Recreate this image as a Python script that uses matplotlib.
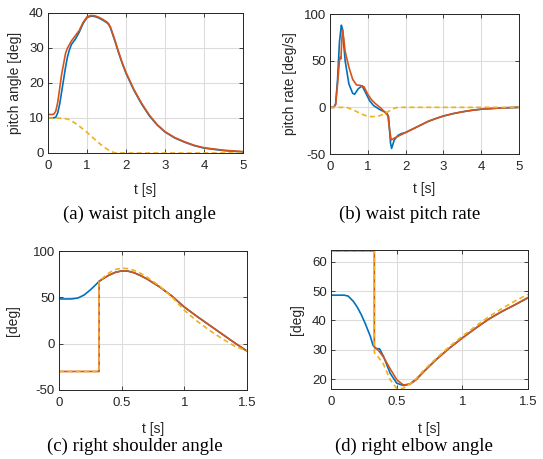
import numpy as np
import matplotlib
matplotlib.use("Agg")
import matplotlib.pyplot as plt

# matlab default colours
c_blue = "#0072BD"
c_red = "#D95319"
c_yel = "#EDB120"

# (a) waist pitch angle [deg]
ta_b = [0, 0.1, 0.2, 0.25, 0.3, 0.35, 0.4, 0.45, 0.5, 0.55, 0.6, 0.7, 0.8, 0.9, 1.0, 1.1, 1.2, 1.3, 1.4, 1.5,
        1.55, 1.6, 1.7, 1.8, 1.9, 2.0, 2.2, 2.4, 2.6, 2.8, 3.0, 3.25, 3.5, 3.75, 4.0, 4.5, 5.0]
pa_b = [10, 10, 10.2, 11.5, 14, 17.5, 21, 24.5, 27.5, 29.5, 31, 32.5, 34.5, 37, 38.7, 39.1, 39.0, 38.6, 38.0, 37.3,
        36.8, 35.8, 32.5, 29, 25.7, 22.8, 18, 14, 10.6, 8, 6, 4.3, 3.1, 2.1, 1.4, 0.7, 0.3]
ta_r = [0, 0.1, 0.15, 0.2, 0.25, 0.3, 0.35, 0.4, 0.45, 0.5, 0.55, 0.6, 0.7, 0.8, 0.9, 1.0, 1.1, 1.2, 1.3, 1.4, 1.5,
        1.55, 1.6, 1.7, 1.8, 1.9, 2.0, 2.2, 2.4, 2.6, 2.8, 3.0, 3.25, 3.5, 3.75, 4.0, 4.5, 5.0]
pa_r = [11, 11, 11.1, 12, 14.5, 18.5, 22.5, 25.5, 28.5, 30, 31, 32, 33.5, 35, 37.3, 38.9, 39.3, 39.2, 38.8, 38.2, 37.5,
        37.0, 36.0, 32.8, 29.2, 25.9, 23.0, 18.2, 14.2, 10.8, 8.1, 6.1, 4.4, 3.2, 2.2, 1.5, 0.8, 0.4]
ta_y = [0, 0.2, 0.4, 0.5, 0.6, 0.7, 0.8, 0.9, 1.0, 1.1, 1.2, 1.3, 1.4, 1.5, 1.6, 1.7, 1.8, 2.0, 3.0, 4.0, 5.0]
pa_y = [10, 10, 9.9, 9.7, 9.2, 8.5, 7.7, 6.8, 5.9, 4.9, 3.9, 2.9, 2.0, 1.2, 0.5, 0.1, 0, 0, 0, 0, 0]

# (b) waist pitch rate [deg/s]
tb_b = [0, 0.1, 0.15, 0.2, 0.25, 0.3, 0.33, 0.4, 0.5, 0.6, 0.65, 0.75, 0.85, 0.95, 1.05, 1.15, 1.3, 1.45, 1.5, 1.55,
        1.6, 1.63, 1.7, 1.8, 1.9, 2.0, 2.2, 2.4, 2.6, 2.8, 3.0, 3.25, 3.5, 3.75, 4.0, 4.5, 5.0]
rb_b = [0, 0, 4, 30, 70, 88, 84, 50, 25, 15, 14, 20, 23, 15, 7, 2, -2, -5, -6, -10,
        -38, -44, -35, -30, -28, -27, -23, -19, -15, -12, -9.3, -6.8, -4.8, -3.2, -2, -0.7, 0]
tb_r = [0, 0.1, 0.15, 0.2, 0.25, 0.27, 0.29, 0.31, 0.33, 0.36, 0.4, 0.5, 0.6, 0.7, 0.8, 0.9, 1.0, 1.1, 1.2, 1.35,
        1.47, 1.53, 1.58, 1.62, 1.7, 1.8, 1.9, 2.0, 2.2, 2.4, 2.6, 2.8, 3.0, 3.25, 3.5, 3.75, 4.0, 4.5, 5.0]
rb_r = [0, 0, 3, 25, 50, 54, 52, 70, 83, 75, 60, 43, 30, 24, 23.5, 22, 14, 8, 4, -1,
        -6, -9, -25, -35, -33, -31, -29, -27, -23, -19, -15, -12, -9.3, -6.8, -4.8, -3.2, -2, -0.7, 0]
tb_y = [0, 0.3, 0.45, 0.6, 0.75, 0.9, 1.0, 1.12, 1.25, 1.35, 1.5, 1.6, 1.7, 1.8, 2.0, 3.0, 4.0, 5.0]
rb_y = [0, 0, -0.2, -2.5, -5.5, -8.3, -9.5, -10, -9.6, -8.5, -5.5, -3.2, -1, 0, 0, 0, 0, 0]

# (c) right shoulder angle [deg]
tc_b = [0, 0.05, 0.1, 0.15, 0.2, 0.25, 0.3, 0.32, 0.35, 0.4, 0.45, 0.5, 0.55, 0.6, 0.65, 0.7, 0.8, 0.9, 1.0, 1.1,
        1.2, 1.3, 1.4, 1.5]
sc_b = [48.3, 48.2, 48.3, 49.2, 52.5, 58, 64.5, 67.3, 70, 74, 77, 78.5, 78.3, 76.5, 73.5, 70, 61.5, 51.5, 39.5, 29.5,
        20, 10.5, 1, -8]
tc_r = [0, 0.1, 0.2, 0.3, 0.32, 0.32, 0.35, 0.4, 0.45, 0.5, 0.55, 0.6, 0.65, 0.7, 0.8, 0.9, 1.0, 1.1,
        1.2, 1.3, 1.4, 1.5]
sc_r = [-30, -30, -30, -30, -30, 67.3, 70, 74, 77, 78.5, 78.3, 76.5, 73.5, 70, 61.5, 51.5, 39.5, 29.5,
        20, 10.5, 1, -8]
tc_y = [0, 0.1, 0.2, 0.3, 0.32, 0.32, 0.35, 0.4, 0.45, 0.5, 0.55, 0.6, 0.65, 0.7, 0.8, 0.9, 1.0, 1.1,
        1.2, 1.3, 1.4, 1.5]
sc_y = [-30, -30, -30, -30, -30, 67, 71, 76.5, 80, 81.5, 81, 79, 76, 72, 62.5, 50.5, 36, 24.5,
        14.5, 5.5, -2.5, -8]

# (d) right elbow angle [deg]
td_b = [0, 0.05, 0.1, 0.13, 0.17, 0.2, 0.23, 0.26, 0.3, 0.32, 0.34, 0.37, 0.4, 0.45, 0.5, 0.55, 0.6, 0.65, 0.7, 0.8,
        0.9, 1.0, 1.1, 1.2, 1.3, 1.4, 1.5]
ed_b = [48.6, 48.6, 48.6, 48.3, 46.5, 44.5, 42, 39, 34.5, 31.5, 30.4, 30.3, 27.7, 22, 18.6, 17.8, 18.3, 20, 22.3, 26.6,
        30.5, 34, 37.3, 40.4, 43, 45.3, 47.7]
td_r = [0, 0.1, 0.2, 0.3, 0.33, 0.33, 0.36, 0.4, 0.45, 0.5, 0.55, 0.6, 0.65, 0.7, 0.8,
        0.9, 1.0, 1.1, 1.2, 1.3, 1.4, 1.5]
ed_r = [63.7, 63.7, 63.7, 63.7, 63.7, 31, 29.8, 27.5, 23.5, 19.8, 18, 18.2, 19.8, 22.2, 26.6,
        30.5, 34, 37.3, 40.4, 43, 45.3, 47.8]
td_y = [0, 0.1, 0.2, 0.3, 0.33, 0.33, 0.36, 0.4, 0.45, 0.5, 0.55, 0.6, 0.65, 0.7, 0.8,
        0.9, 1.0, 1.1, 1.2, 1.3, 1.4, 1.5]
ed_y = [63.7, 63.7, 63.7, 63.7, 63.7, 29, 27.5, 25, 19.8, 16.8, 16.8, 18.3, 20.2, 22.7, 27,
        31, 34.6, 38, 41.2, 44, 46.6, 48.9]

plt.rcParams['font.family'] = ['Liberation Sans', 'DejaVu Sans']
plt.rcParams['font.size'] = 10

fig = plt.figure(figsize=(5.43, 4.59), dpi=100)
W, H = 543.0, 459.0

def mk_ax(l, t, r, b):
    return fig.add_axes([l / W, 1 - b / H, (r - l) / W, (b - t) / H])

def style(ax, xlim, ylim, xt, yt, ylabel, ylx, xly):
    ax.set_xlim(xlim)
    ax.set_ylim(ylim)
    ax.set_xticks(xt)
    ax.set_yticks(yt)
    ax.set_xticklabels([("%g" % v) for v in xt])
    ax.set_yticklabels([("%g" % v) for v in yt])
    ax.grid(True, color="#dcdcdc", lw=0.8)
    ax.set_axisbelow(True)
    for s in ax.spines.values():
        s.set_color("#262626")
        s.set_linewidth(0.7)
    ax.tick_params(direction="in", length=3, width=0.6, colors="#262626", labelsize=9.5,
                   top=True, right=True)
    ax.tick_params(axis="x", pad=5)
    ax.tick_params(axis="y", pad=3)
    ax.set_xlabel("t [s]", color="#262626", fontsize=10)
    ax.set_ylabel(ylabel, color="#262626", fontsize=10)
    ax.yaxis.set_label_coords(ylx, 0.5)
    ax.xaxis.set_label_coords(0.5, xly)

lw = 1.2
dash = (0, (3, 2))

ax1 = mk_ax(48, 13, 243, 153)
ax1.plot(ta_b, pa_b, color=c_blue, lw=lw)
ax1.plot(ta_r, pa_r, color=c_red, lw=lw)
ax1.plot(ta_y, pa_y, color=c_yel, lw=lw, ls=dash)
style(ax1, (0, 5), (0, 40), [0, 1, 2, 3, 4, 5], [0, 10, 20, 30, 40], "pitch angle [deg]", -0.133, -0.214)

ax2 = mk_ax(330, 14, 519, 154)
ax2.plot(tb_b, rb_b, color=c_blue, lw=lw)
ax2.plot(tb_r, rb_r, color=c_red, lw=lw)
ax2.plot(tb_y, rb_y, color=c_yel, lw=lw, ls=dash)
style(ax2, (0, 5), (-50, 100), [0, 1, 2, 3, 4, 5], [-50, 0, 50, 100], "pitch rate [deg/s]", -0.175, -0.2)

ax3 = mk_ax(59, 251, 247, 390)
ax3.plot(tc_b, sc_b, color=c_blue, lw=lw)
ax3.plot(tc_r, sc_r, color=c_red, lw=lw)
ax3.plot(tc_y, sc_y, color=c_yel, lw=lw, ls=dash)
style(ax3, (0, 1.5), (-50, 100), [0, 0.5, 1, 1.5], [-50, 0, 50, 100], "[deg]", -0.207, -0.23)

ax4 = mk_ax(331, 250, 528, 389)
ax4.plot(td_b, ed_b, color=c_blue, lw=lw)
ax4.plot(td_r, ed_r, color=c_red, lw=lw)
ax4.plot(td_y, ed_y, color=c_yel, lw=lw, ls=dash)
style(ax4, (0, 1.5), (16.6, 64.0), [0, 0.5, 1, 1.5], [20, 30, 40, 50, 60], "[deg]", -0.137, -0.237)

caps = [("(a) waist pitch angle", 139, 214), ("(b) waist pitch rate", 410, 214),
        ("(c) right shoulder angle", 135, 446), ("(d) right elbow angle", 414, 446)]
for txt, x, y in caps:
    fig.text(x / W, 1 - y / H, txt, ha="center", va="center",
             family=["Liberation Serif", "DejaVu Serif"], fontsize=13.5)

fig.savefig("out.png", dpi=100)
